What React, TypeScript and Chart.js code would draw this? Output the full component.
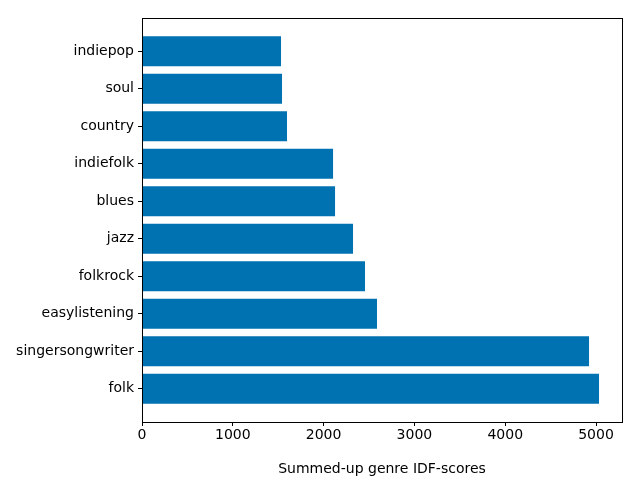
import { useEffect, useRef } from "react";
import Chart from "chart.js/auto";

// bottom to top
const genres = ["folk", "singersongwriter", "easylistening", "folkrock", "jazz", "blues", "indiefolk", "country", "soul", "indiepop"];
const scores = [5033, 4923, 2588, 2456, 2324, 2126, 2104, 1597, 1542, 1531];
const xTicks = [0, 1000, 2000, 3000, 4000, 5000];

const font = { family: "DejaVu Sans", size: 14 };

const boxPlugin = {
  id: "box",
  afterDraw(chart: any) {
    const { ctx, chartArea: a } = chart;
    ctx.save();
    ctx.strokeStyle = "#000";
    ctx.lineWidth = 1;
    ctx.strokeRect(a.left + 0.5, a.top + 0.5, a.right - a.left, a.bottom - a.top);
    ctx.restore();
  },
};

export default function App() {
  const ref = useRef<HTMLCanvasElement>(null);

  useEffect(() => {
    document.body.style.margin = "0";
    if (!ref.current) return;
    const chart = new Chart(ref.current, {
      type: "bar",
      data: {
        datasets: [
          {
            data: scores.map((v, i) => ({ x: v, y: i })),
            backgroundColor: "#0072b2",
            barPercentage: 0.8,
            categoryPercentage: 1,
          },
        ],
      },
      options: {
        indexAxis: "y",
        animation: false,
        responsive: false,
        layout: { padding: { top: 18, right: 18, left: 0, bottom: 0 } },
        plugins: { legend: { display: false }, tooltip: { enabled: false } },
        scales: {
          x: {
            type: "linear",
            min: 0,
            max: 5286,
            afterBuildTicks: (s: any) => { s.ticks = xTicks.map(v => ({ value: v })); },
            afterFit: (s: any) => { s.height = 56; },
            grid: { drawOnChartArea: false, tickLength: 4, color: "#000" },
            border: { display: false },
            ticks: { color: "#000", font, padding: 1, callback: (v: any) => String(v) },
            title: { display: true, text: "Summed-up genre IDF-scores", color: "#000", font, padding: { top: 0, bottom: 0 } },
          },
          y: {
            type: "linear",
            offset: false,
            min: -0.89,
            max: 9.89,
            afterBuildTicks: (s: any) => { s.ticks = genres.map((_, i) => ({ value: i })); },
            afterFit: (s: any) => { s.width = 142; },
            grid: { offset: false, drawOnChartArea: false, tickLength: 4, color: "#000" },
            border: { display: false },
            ticks: { color: "#000", font, padding: 4, callback: (v: any) => genres[v] ?? "" },
          },
        },
      },
      plugins: [boxPlugin],
    });
    return () => chart.destroy();
  }, []);

  return <canvas ref={ref} width={640} height={478} style={{ display: "block" }} />;
}
